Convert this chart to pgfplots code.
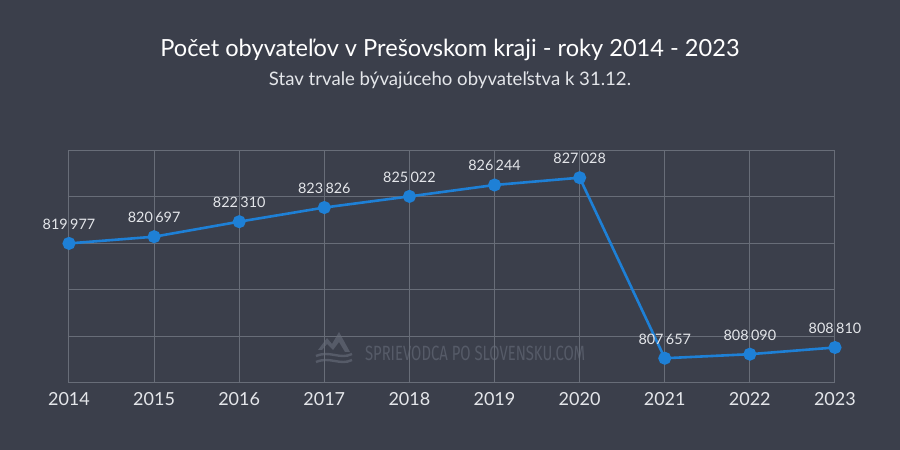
\documentclass[border=0pt]{standalone}
\usepackage{fontspec}
\setmainfont{Lato}
\newfontfamily\wmfont[FakeStretch=0.72]{Fira Sans}
\usepackage{pgfplots}
\pgfplotsset{compat=1.18}
\definecolor{bg}{RGB}{59,63,75}
\definecolor{gridc}{RGB}{104,109,120}
\definecolor{lineblue}{RGB}{30,128,214}
\definecolor{labelc}{RGB}{228,230,234}
\definecolor{wmc}{RGB}{86,91,104}

\begin{document}
\begin{tikzpicture}
  % background, 900x450 px at 0.5pt per px
  \begin{scope}[x=0.5pt,y=0.5pt]
  \fill[bg] (0,0) rectangle (900,450);
  \node[text=white, font=\fontsize{11.8}{14}\selectfont] at (450,400) {Počet obyvateľov v Prešovskom kraji - roky 2014 - 2023};
  \node[text=labelc, font=\fontsize{9.3}{11}\selectfont] at (450,370) {Stav trvale bývajúceho obyvateľstva k 31.12.};
  % watermark
  \fill[wmc] (318,100) -- (327,112) -- (332,106) -- (339,118) -- (350,98) -- (345,98) -- (339,108) -- (333,100) -- (327,106) -- (322,100) -- cycle;
  \draw[wmc, line width=1.2pt] (316,94) .. controls (330,100) and (340,90) .. (352,96);
  \draw[wmc, line width=1.2pt] (316,88) .. controls (330,94) and (340,84) .. (352,90);
  \node[text=wmc, anchor=west, font=\wmfont\fontsize{10.3}{12}\selectfont] at (358,97) {SPRIEVODCA PO SLOVENSKU.COM};
  \end{scope}

  \begin{axis}[
      at={(34.5pt,33.5pt)}, anchor=south west,
      scale only axis,
      width=383pt, height=116.5pt,
      xmin=2014, xmax=2023,
      ymin=805000, ymax=830000,
      xtick={2014,...,2023},
      ytick={805000,810000,...,830000},
      yticklabels={},
      scaled y ticks=false,
      grid=major,
      major grid style={gridc, line width=0.5pt},
      axis line style={draw=none},
      major tick length=0pt,
      tick style={draw=none},
      xticklabel style={text=labelc, font=\fontsize{9}{11}\selectfont,
        /pgf/number format/1000 sep={}, /pgf/number format/assume math mode=true},
      xtick pos=bottom,
      tick label style={yshift=-1pt},
      clip=false,
      nodes near coords,
      point meta=explicit symbolic,
      every node near coord/.style={text=labelc, font=\fontsize{7.2}{9}\selectfont, anchor=south, yshift=3pt},
    ]
    \draw[gridc, line width=0.5pt] (axis cs:2014,805000) -- (axis cs:2023,805000);
    \addplot[lineblue, line width=1.3pt, mark=*, mark size=2.6pt, mark options={fill=lineblue, draw=lineblue}]
      coordinates {
        (2014,819977) [819\,977]
        (2015,820697) [820\,697]
        (2016,822310) [822\,310]
        (2017,823826) [823\,826]
        (2018,825022) [825\,022]
        (2019,826244) [826\,244]
        (2020,827028) [827\,028]
        (2021,807657) [807\,657]
        (2022,808090) [808\,090]
        (2023,808810) [808\,810]
      };
  \end{axis}
\end{tikzpicture}
\end{document}
